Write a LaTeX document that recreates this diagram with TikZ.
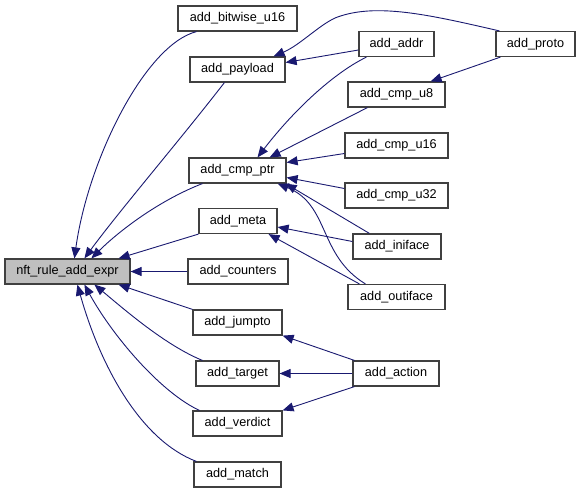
\documentclass[tikz,border=0pt]{standalone}
\usepackage{fontspec}
\setmainfont{Liberation Sans}
\usetikzlibrary{arrows.meta}
\definecolor{edgeblue}{HTML}{191970}
\definecolor{boxline}{HTML}{404040}
\begin{document}
\begin{tikzpicture}[x=1pt,y=-1pt,
  fn/.style={draw=boxline,line width=1.2pt,fill=white,rectangle,inner sep=0pt,
    minimum height=25pt,font=\fontsize{12.7}{15}\selectfont},
  hl/.style={fn,fill=black!25},
  e/.style={draw=edgeblue,line width=0.9pt,-{Triangle[length=11pt,width=9pt]}}]
\useasboundingbox (0,0) rectangle (580,493);
% left
\node[hl,minimum width=125pt] (nft) at (67.5,271.5) {nft\_rule\_add\_expr};
% middle column
\node[fn,minimum width=119pt] (bitwise) at (237.5,18.5) {add\_bitwise\_u16};
\node[fn,minimum width=95pt] (payload) at (237.5,69.5) {add\_payload};
\node[fn,minimum width=97pt] (cmpptr) at (237.5,170.5) {add\_cmp\_ptr};
\node[fn,minimum width=78pt] (meta) at (238,221) {add\_meta};
\node[fn,minimum width=100pt] (counters) at (238,271.5) {add\_counters};
\node[fn,minimum width=89pt] (jumpto) at (237.5,322.5) {add\_jumpto};
\node[fn,minimum width=83pt] (target) at (237.5,373.5) {add\_target};
\node[fn,minimum width=89pt] (verdict) at (237.5,423.5) {add\_verdict};
\node[fn,minimum width=87pt] (match) at (237.5,474.5) {add\_match};
% right column
\node[fn,minimum width=75pt] (addr) at (396.5,44) {add\_addr};
\node[fn,minimum width=79pt] (proto) at (535.5,44) {add\_proto};
\node[fn,minimum width=97pt] (cmpu8) at (396.5,94.5) {add\_cmp\_u8};
\node[fn,minimum width=103pt] (cmpu16) at (396.5,145.5) {add\_cmp\_u16};
\node[fn,minimum width=103pt] (cmpu32) at (396.5,195.5) {add\_cmp\_u32};
\node[fn,minimum width=88pt] (iniface) at (397,246.5) {add\_iniface};
\node[fn,minimum width=97pt] (outiface) at (396.5,297) {add\_outiface};
\node[fn,minimum width=86pt] (action) at (396,373.5) {add\_action};
% edges into nft_rule_add_expr
\draw[e] ([shift={(19,0)}]bitwise.south west) .. controls (145,45) and (88,160) .. ([shift={(70,0)}]nft.north west);
\draw[e] ([shift={(35,0)}]payload.south west) .. controls (180,140) and (120,210) .. ([shift={(80,0)}]nft.north west);
\draw[e] ([shift={(14,0)}]cmpptr.south west) .. controls (160,200) and (120,230) .. ([shift={(87,0)}]nft.north west);
\draw[e] (meta.south west) -- ([shift={(-12,0)}]nft.north east);
\draw[e] (counters.west) -- (nft.east);
\draw[e] (jumpto.north west) -- ([shift={(-12,0)}]nft.south east);
\draw[e] ([shift={(7,0)}]target.north west) .. controls (165,345) and (125,310) .. ([shift={(90,0)}]nft.south west);
\draw[e] ([shift={(7,0)}]verdict.north west) .. controls (160,392) and (112,335) .. ([shift={(80,0)}]nft.south west);
\draw[e] ([shift={(3,0)}]match.north west) .. controls (140,440) and (100,365) .. ([shift={(73,0)}]nft.south west);
% edges into add_payload
\draw[e] ([shift={(4,0)}]proto.north west) .. controls (430,15) and (375,2) .. (335,18) .. controls (318,26) and (300,45) .. ([shift={(-12,0)}]payload.north east);
\draw[e] ([shift={(0,6)}]addr.west) -- ([shift={(0,-7)}]payload.east);
% edges into add_cmp_ptr
\draw[e] ([shift={(8,0)}]addr.south west) .. controls (330,75) and (290,115) .. ([shift={(20,0)}]cmpptr.north);
\draw[e] ([shift={(5,0)}]proto.south west) -- ([shift={(-15,0)}]cmpu8.north east);
\draw[e] ([shift={(20,0)}]cmpu8.south west) -- ([shift={(-17,0)}]cmpptr.north east);
\draw[e] ([shift={(0,8)}]cmpu16.west) -- ([shift={(0,-8)}]cmpptr.east);
\draw[e] ([shift={(0,-7)}]cmpu32.west) -- ([shift={(0,7)}]cmpptr.east);
\draw[e] ([shift={(17,0)}]iniface.north west) -- ([shift={(-1,0)}]cmpptr.south east);
\draw[e] ([shift={(18,0)}]outiface.north west) .. controls (318,255) and (330,205) .. ([shift={(-9,0)}]cmpptr.south east);
% edges into add_meta
\draw[e] ([shift={(0,-5)}]iniface.west) -- ([shift={(0,6)}]meta.east);
\draw[e] ([shift={(12,0)}]outiface.north west) -- ([shift={(-9,0)}]meta.south east);
% edges from add_action
\draw[e] ([shift={(2,0)}]action.north west) -- (jumpto.south east);
\draw[e] (action.west) -- (target.east);
\draw[e] ([shift={(2,0)}]action.south west) -- (verdict.north east);
\end{tikzpicture}
\end{document}
